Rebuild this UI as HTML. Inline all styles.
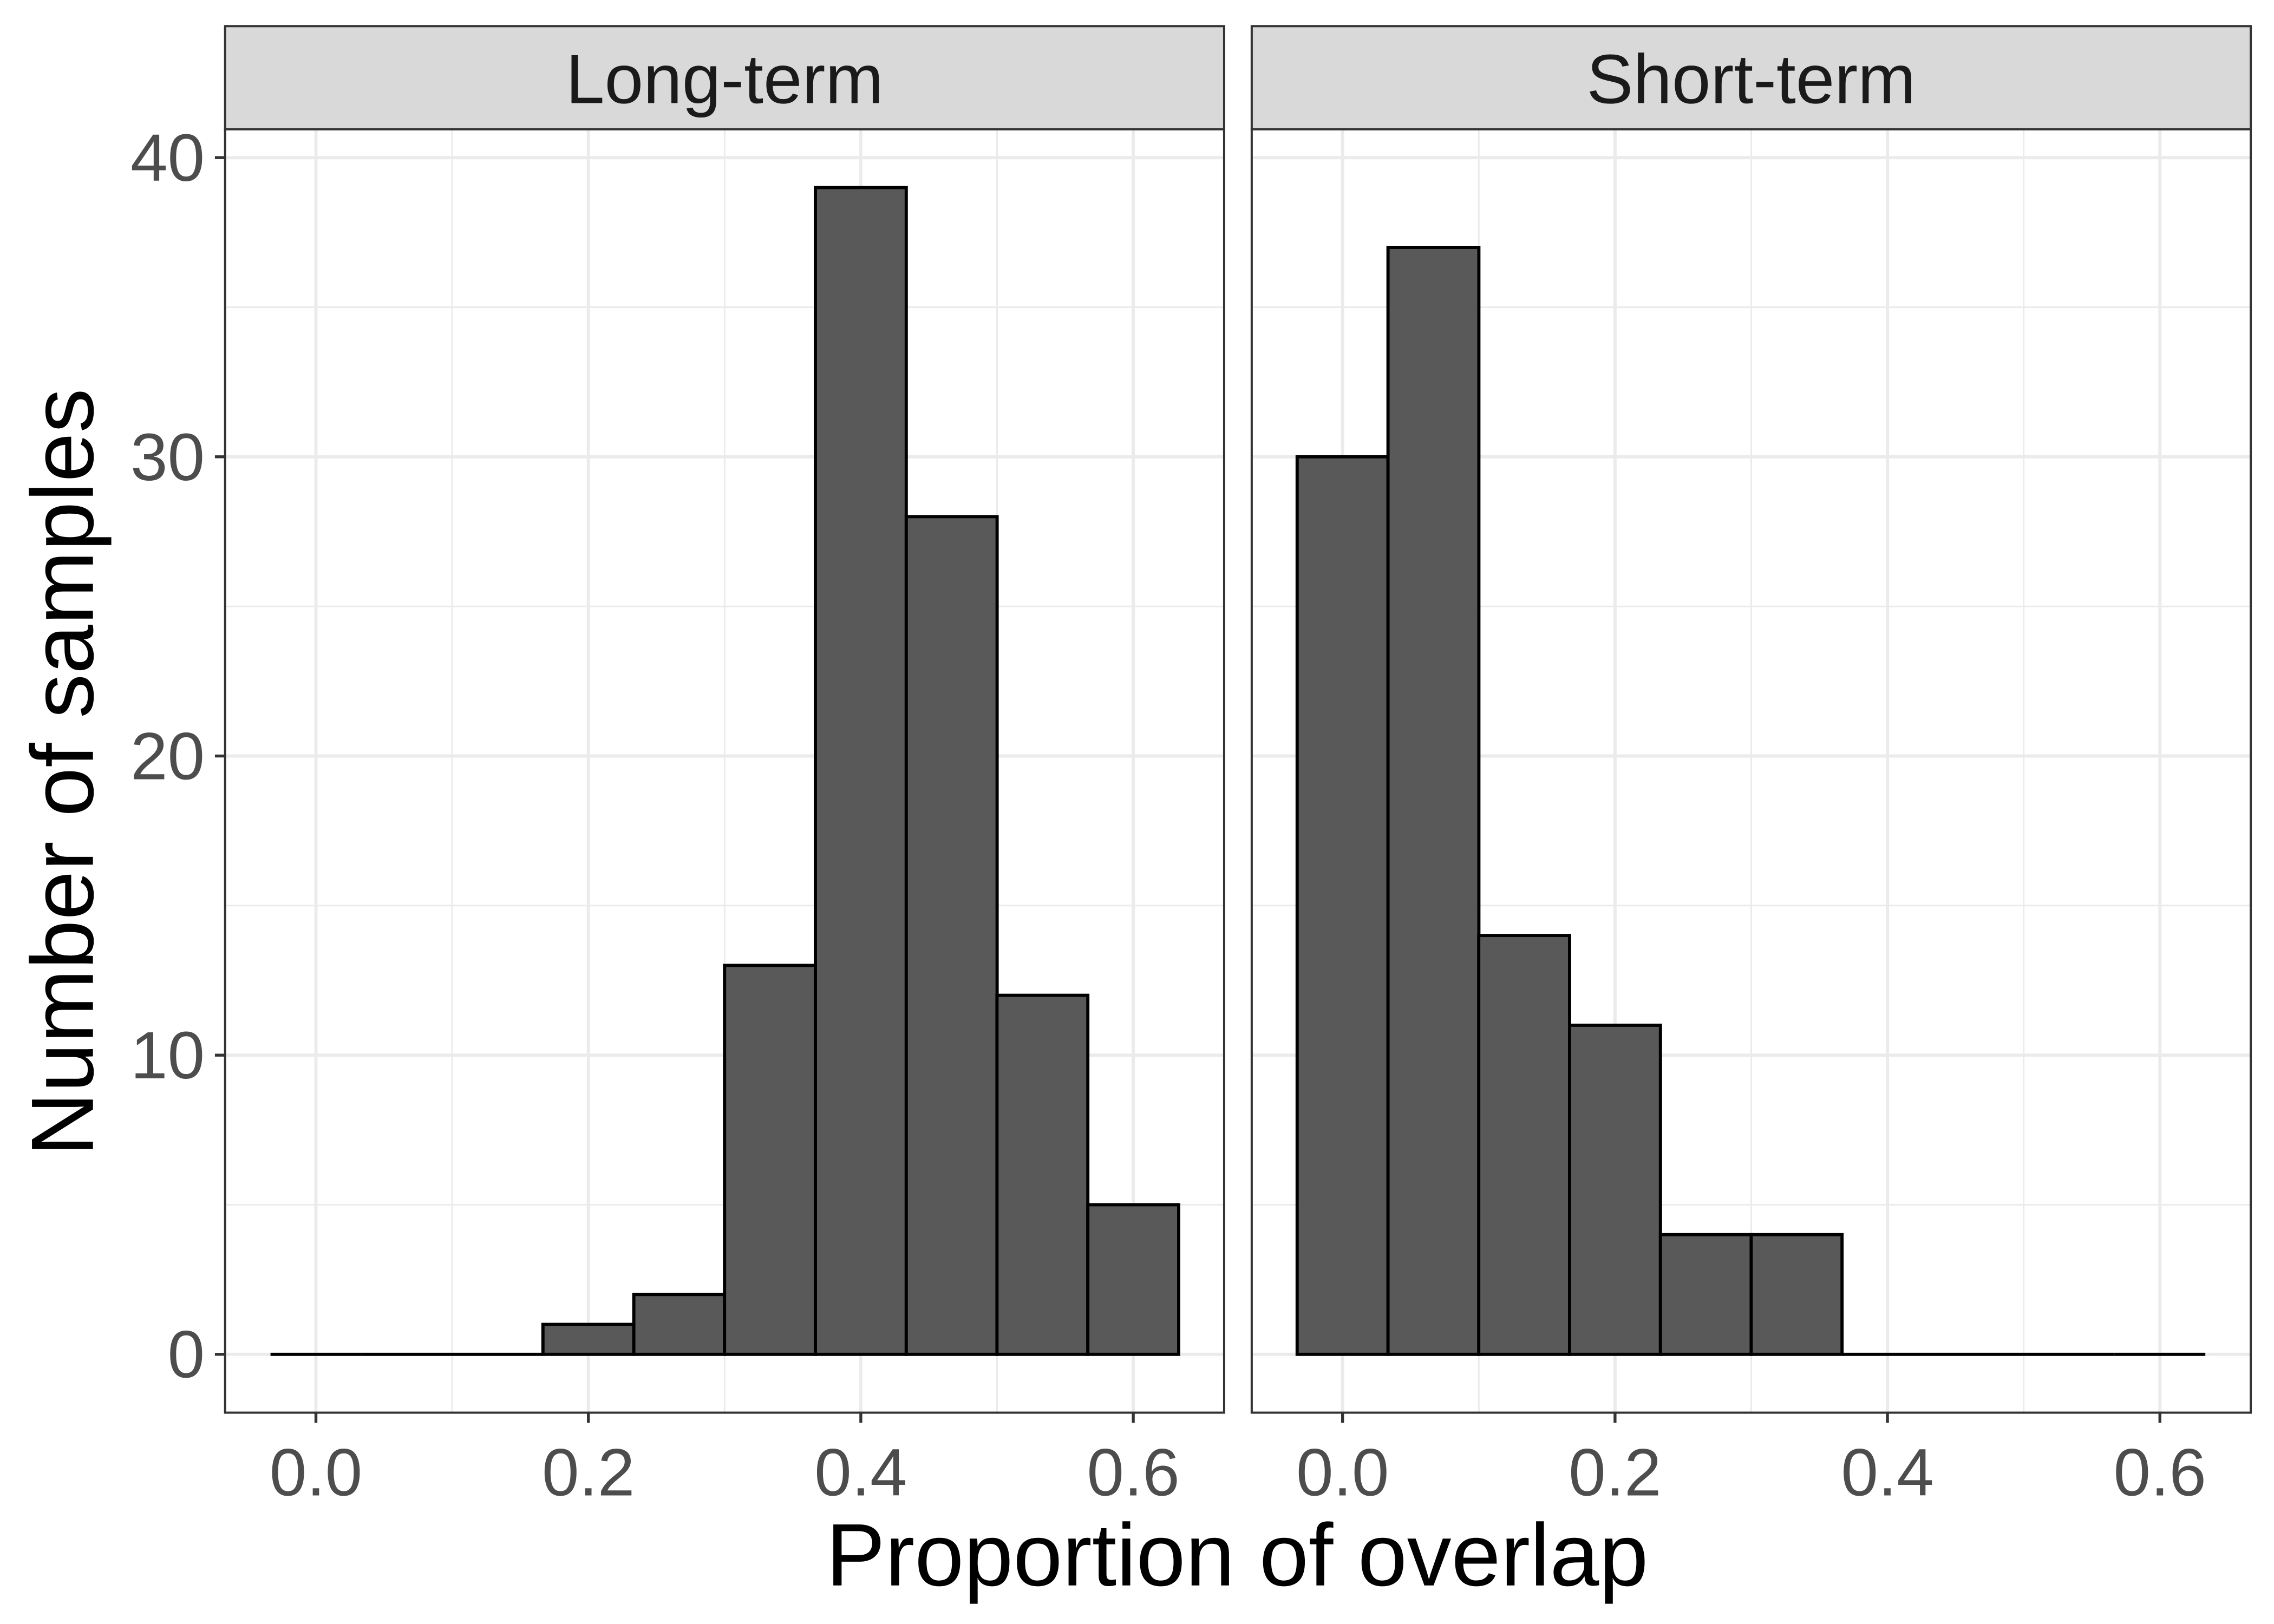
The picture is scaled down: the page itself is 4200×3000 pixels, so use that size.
<!DOCTYPE html>
<html><head><meta charset="utf-8"><style>
html,body{margin:0;padding:0;background:#fff;}
svg{display:block;font-family:"Liberation Sans",Arial,sans-serif;}
</style></head><body>
<svg id="chart" width="4200" height="3000" viewBox="0 0 1566 1118.57" xmlns="http://www.w3.org/2000/svg">
<rect x="0" y="0" width="1566" height="1118.57" fill="#fff"/>
<g id="plot"></g>
<text x="852" y="1092" font-size="61" text-anchor="middle" fill="#000">Proportion of overlap</text>
<text transform="translate(64,532) rotate(-90)" font-size="61" text-anchor="middle" fill="#000">Number of samples</text>
</svg>
<script>
const panels = ["Long-term", "Short-term"];
const binCenters = [0.0, 0.0667, 0.1333, 0.2, 0.2667, 0.3333, 0.4, 0.4667, 0.5333, 0.6];
const longTermCounts = [0, 0, 0, 1, 2, 13, 39, 28, 12, 5];
const shortTermCounts = [30, 37, 14, 11, 4, 4, 0, 0, 0, 0];
const xTicks = [0.0, 0.2, 0.4, 0.6];
const xTickLabels = ["0.0", "0.2", "0.4", "0.6"];
const yTicks = [0, 10, 20, 30, 40];
const binWidth = 0.0667;

const NS = "http://www.w3.org/2000/svg";
const g = document.getElementById("plot");
const panelX = [155, 862], panelW = 688, panelTop = 89, panelBottom = 973, stripTop = 18;
const xMin = -0.0667, xMax = 0.6667, yMin = -1.95, yMax = 40.95;
function sx(p, v){ return panelX[p] + (v - xMin) / (xMax - xMin) * panelW; }
function sy(v){ return panelBottom - (v - yMin) / (yMax - yMin) * (panelBottom - panelTop); }
function el(tag, attrs, parent){ const e = document.createElementNS(NS, tag); for (const k in attrs) e.setAttribute(k, attrs[k]); (parent||g).appendChild(e); return e; }

const allCounts = [longTermCounts, shortTermCounts];
panels.forEach((name, p) => {
  const x0 = panelX[p], x1 = x0 + panelW;
  const pg = el("g", {});
  
  
  [5,15,25,35].forEach(v => { const l = el("line", {x1:x0, x2:x1, y1:sy(v), y2:sy(v), stroke:"#ebebeb", "stroke-width":1.1}, pg);   });
  [0.1,0.3,0.5].forEach(v => { const l = el("line", {x1:sx(p,v), x2:sx(p,v), y1:panelTop, y2:panelBottom, stroke:"#ebebeb", "stroke-width":1.1}, pg);   });
  yTicks.forEach(v => { const l = el("line", {x1:x0, x2:x1, y1:sy(v), y2:sy(v), stroke:"#ebebeb", "stroke-width":2.2}, pg);   });
  xTicks.forEach(v => { const l = el("line", {x1:sx(p,v), x2:sx(p,v), y1:panelTop, y2:panelBottom, stroke:"#ebebeb", "stroke-width":2.2}, pg);   });
  allCounts[p].forEach((c, i) => {
    const bx0 = sx(p, binCenters[i] - binWidth/2), bx1 = sx(p, binCenters[i] + binWidth/2);
    if (c > 0) {
      const r = el("rect", {x:bx0, y:sy(c), width:bx1-bx0, height:sy(0)-sy(c), fill:"#595959", stroke:"#000", "stroke-width":2.2}, pg);
      
      
    } else {
      const r = el("line", {x1:bx0, x2:bx1, y1:sy(0), y2:sy(0), stroke:"#000", "stroke-width":2.2}, pg);
      
      
    }
  });
  const b = el("rect", {x:x0, y:panelTop, width:panelW, height:panelBottom-panelTop, fill:"none", stroke:"#333", "stroke-width":1.5}, pg);
   
  const s = el("rect", {x:x0, y:stripTop, width:panelW, height:panelTop-stripTop, fill:"#d9d9d9", stroke:"#333", "stroke-width":1.5}, pg);
   
  const st = el("text", {x:(x0+x1)/2, y:71, "font-size":48, "text-anchor":"middle", fill:"#1a1a1a"}, pg);
  st.textContent = name;
   
  xTicks.forEach((v, i) => {
    const t = el("line", {x1:sx(p,v), x2:sx(p,v), y1:panelBottom, y2:panelBottom+7, stroke:"#333", "stroke-width":2}, pg);
     
    const tl = el("text", {x:sx(p,v), y:1030, "font-size":46, "text-anchor":"middle", fill:"#4d4d4d"}, pg);
    tl.textContent = xTickLabels[i];
     
  });
  if (p === 0) {
    yTicks.forEach(v => {
      const t = el("line", {x1:x0-7, x2:x0, y1:sy(v), y2:sy(v), stroke:"#333", "stroke-width":2}, pg);
       
      const tl = el("text", {x:141, y:sy(v)+16, "font-size":46, "text-anchor":"end", fill:"#4d4d4d"}, pg);
      tl.textContent = String(v);
       
    });
  }
});
</script>
</body></html>
